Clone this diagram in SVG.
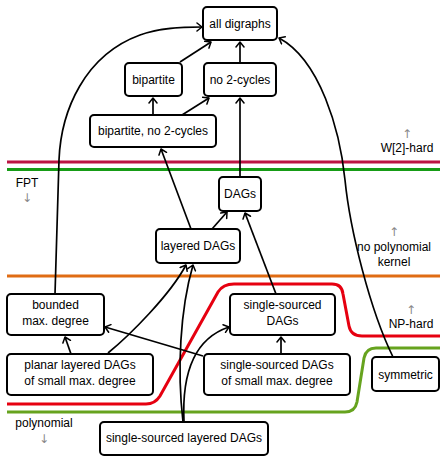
<svg xmlns="http://www.w3.org/2000/svg" width="442" height="458" viewBox="0 0 442 458">
<style>
.bd{fill:none;stroke-width:3}
.n rect{fill:#fff;stroke:#000;stroke-width:2}
text{font-family:"Liberation Sans",Arial,sans-serif;font-size:12px;fill:#000;text-anchor:middle}
.ar{font-family:"DejaVu Sans",sans-serif;fill:#888;font-size:12px}
#edges path{fill:none;stroke:#000;stroke-width:1.7;marker-end:url(#ah)}
</style>
<defs>
<marker id="ah" viewBox="-6 -5 8 10" refX="0" refY="0" markerWidth="8" markerHeight="10" markerUnits="userSpaceOnUse" orient="auto">
<path d="M-5,-4 L0,0 L-5,4" fill="none" stroke="#000" stroke-width="1.5" stroke-linecap="round" stroke-linejoin="round"/>
</marker>
</defs>
<rect width="442" height="458" fill="#fff"/>
<g id="boundaries">
<path class="bd" stroke="#bb1543" d="M7,162 H440"/>
<path class="bd" stroke="#169c16" d="M7,169.5 H440"/>
<path class="bd" stroke="#e06c14" d="M7,276 H440"/>
<path class="bd" stroke="#e60010" d="M7,404 H146 Q155,404 160,396 L218,292 Q223,284 234,284 H332 Q342,284 343,294 L349,326 Q351,336 362,336 H440"/>
<path class="bd" stroke="#66a31e" d="M7,412 H345 Q355,412 357,402 L364,358 Q366,348 376,348 H440"/>
</g>
<g id="labels">
<text class="ar" x="407" y="138">↑</text>
<text x="407" y="152">W[2]-hard</text>
<text x="27" y="187">FPT</text>
<text class="ar" x="27" y="202">↓</text>
<text class="ar" x="394" y="236">↑</text>
<text x="394" y="251">no polynomial</text>
<text x="394" y="266">kernel</text>
<text class="ar" x="411" y="314">↑</text>
<text x="411" y="328">NP-hard</text>
<text x="44" y="427">polynomial</text>
<text class="ar" x="44" y="443">↓</text>
</g>
<g id="edges">
<path d="M180,62 L211,42"/>
<path d="M240,63 L240,42"/>
<path d="M153,115 L153,98"/>
<path d="M182,115 L209,98"/>
<path d="M191,229 L161,149"/>
<path d="M212,229 L227,212"/>
<path d="M240,177 L240,98"/>
<path d="M276,294 L245,213"/>
<path d="M55,294 L59,160 C61,110 85,55 140,35 C160,28 180,27 202,27"/>
<path d="M393,357 C370,310 350,230 345,180 C340,130 320,60 279,38"/>
<path d="M71,354 L65,337"/>
<path d="M108,353 C130,335 170,295 186,265"/>
<path d="M203,356 L105,327"/>
<path d="M281,354 L281,337"/>
<path d="M183,422 C177,370 180,310 193,265"/>
<path d="M184,422 C182,380 190,340 229,327"/>
</g>
<g id="n-all" class="n"><rect x="203" y="7" width="74" height="33" rx="4"/><text x="240" y="28">all digraphs</text></g>
<g id="n-bip" class="n"><rect x="125" y="63" width="57" height="33" rx="4"/><text x="153.5" y="84">bipartite</text></g>
<g id="n-no2" class="n"><rect x="204" y="63" width="72" height="33" rx="4"/><text x="240" y="84">no 2-cycles</text></g>
<g id="n-bipno2" class="n"><rect x="90" y="115" width="126" height="32" rx="4"/><text x="153" y="135">bipartite, no 2-cycles</text></g>
<g id="n-dags" class="n"><rect x="219" y="177" width="42" height="34" rx="4"/><text x="240" y="198">DAGs</text></g>
<g id="n-layered" class="n"><rect x="156" y="229" width="84" height="34" rx="4"/><text x="198" y="250">layered DAGs</text></g>
<g id="n-bounded" class="n"><rect x="7" y="294" width="97" height="41" rx="4"/><text x="55.5" y="309">bounded</text><text x="55.5" y="325">max. degree</text></g>
<g id="n-ssdags" class="n"><rect x="230" y="294" width="105" height="41" rx="4"/><text x="282.5" y="309">single-sourced</text><text x="282.5" y="325">DAGs</text></g>
<g id="n-planar" class="n"><rect x="7" y="354" width="146" height="41" rx="4"/><text x="80" y="369">planar layered DAGs</text><text x="80" y="385">of small max. degree</text></g>
<g id="n-sssmall" class="n"><rect x="204" y="354" width="146" height="41" rx="4"/><text x="277" y="369">single-sourced DAGs</text><text x="277" y="385">of small max. degree</text></g>
<g id="n-sym" class="n"><rect x="372" y="357" width="67" height="34" rx="4"/><text x="405.5" y="379">symmetric</text></g>
<g id="n-ssl" class="n"><rect x="100" y="422" width="168" height="33" rx="4"/><text x="184" y="442">single-sourced layered DAGs</text></g>
</svg>
